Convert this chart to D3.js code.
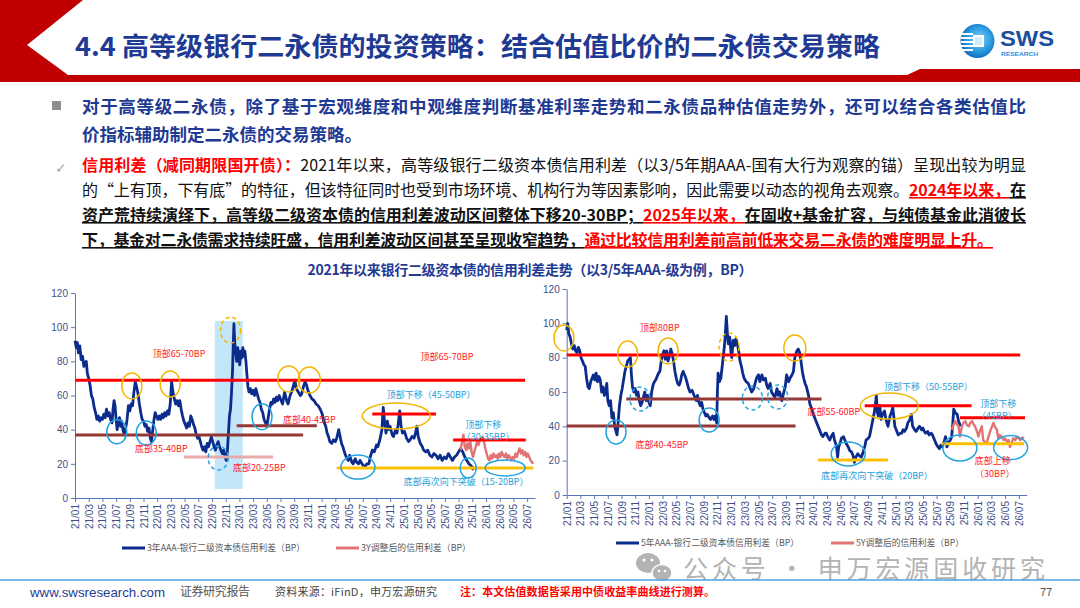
<!DOCTYPE html>
<html><head><meta charset="utf-8">
<script src="https://cdn.jsdelivr.net/npm/d3@7"></script>
<style>
body{margin:0;background:#fff;}
svg{display:block;font-family:"Noto Sans CJK SC","Noto Sans",sans-serif;}
</style>
</head><body>
<svg id="s" width="1080" height="608"></svg>
<script>
// ---------------- DATA ----------------
const monthLabels = ["21/01","21/03","21/05","21/07","21/09","21/11","22/01","22/03","22/05","22/07","22/09","22/11","23/01","23/03","23/05","23/07","23/09","23/11","24/01","24/03","24/05","24/07","24/09","24/11","25/01","25/03","25/05","25/07","25/09","25/11","26/01","26/03","26/05","26/07"];
const yTicks = [0,20,40,60,80,100,120];

// [month offset from 21/01, spread in BP]
const spread3Y = [[0,92],[0.2,88],[0.35,91],[0.5,85],[0.7,89],[0.9,81],[1.1,83],[1.3,77],[1.5,79],[1.65,80],[1.8,73],[2.0,70],[2.2,66],[2.4,60],[2.6,58],[2.8,53],[3.0,50],[3.2,46],[3.4,48],[3.6,45],[3.8,47],[4.0,46],[4.2,49],[4.4,47],[4.6,52],[4.8,48],[5.0,50],[5.2,46],[5.4,44],[5.55,52],[5.7,57],[5.85,54],[6.0,46],[6.15,40],[6.3,44],[6.5,47],[6.65,42],[6.8,45],[7.0,40],[7.2,37],[7.4,41],[7.6,46],[7.8,54],[8.0,51],[8.2,55],[8.4,54],[8.6,62],[8.8,68],[9.0,65],[9.2,61],[9.4,55],[9.6,50],[9.8,46],[10.0,45],[10.2,42],[10.4,43],[10.6,39],[10.8,41],[11.0,35],[11.15,33],[11.3,38],[11.5,45],[11.7,50],[11.9,48],[12.1,46],[12.3,48],[12.5,46],[12.7,49],[12.9,47],[13.1,50],[13.3,48],[13.5,51],[13.7,49],[13.9,55],[14.1,68],[14.3,62],[14.5,58],[14.7,55],[14.9,57],[15.1,54],[15.3,57],[15.5,52],[15.7,48],[15.9,45],[16.1,43],[16.3,41],[16.5,44],[16.7,42],[16.9,48],[17.1,46],[17.3,43],[17.5,41],[17.7,37],[17.9,35],[18.1,36],[18.3,33],[18.5,30],[18.7,28],[18.9,30],[19.1,27],[19.3,32],[19.5,30],[19.7,33],[19.9,36],[20.1,33],[20.3,30],[20.5,28],[20.7,31],[20.9,33],[21.1,30],[21.3,28],[21.5,26],[21.7,28],[21.9,24],[22.1,22],[22.25,28],[22.4,38],[22.55,48],[22.7,52],[22.85,62],[23.0,75],[23.1,90],[23.2,102],[23.3,92],[23.45,85],[23.6,80],[23.75,88],[23.9,84],[24.05,78],[24.2,86],[24.35,82],[24.5,88],[24.65,83],[24.8,86],[24.95,80],[25.1,72],[25.25,65],[25.4,62],[25.6,64],[25.8,61],[26.0,63],[26.2,60],[26.4,64],[26.6,61],[26.8,58],[27.0,56],[27.2,52],[27.4,50],[27.6,46],[27.8,44],[28.0,42],[28.2,47],[28.4,52],[28.6,56],[28.8,55],[29.0,58],[29.2,56],[29.4,59],[29.6,57],[29.8,60],[30.0,58],[30.3,55],[30.6,62],[30.9,57],[31.1,55],[31.4,60],[31.7,63],[31.9,66],[32.1,69],[32.3,64],[32.6,62],[32.9,60],[33.1,61],[33.4,66],[33.6,68],[33.8,66],[34.0,63],[34.3,60],[34.6,58],[34.9,57],[35.2,55],[35.5,54],[35.8,52],[36.1,49],[36.3,45],[36.6,42],[36.8,38],[37.0,36],[37.2,33],[37.5,32],[37.7,34],[38.0,33],[38.2,35],[38.5,40],[38.7,36],[38.9,32],[39.1,30],[39.4,26],[39.6,24],[39.9,22],[40.1,25],[40.4,21],[40.6,20],[40.9,23],[41.1,21],[41.4,20],[41.6,22],[41.9,20],[42.1,19],[42.3,18],[42.6,20],[42.9,20],[43.1,24],[43.4,28],[43.7,27],[44.0,31],[44.2,30],[44.5,34],[44.8,40],[45.0,53],[45.2,44],[45.4,38],[45.6,45],[45.8,40],[46.0,42],[46.3,37],[46.5,36],[46.8,40],[47.0,38],[47.2,44],[47.4,51],[47.6,42],[47.8,38],[48.1,39],[48.4,35],[48.7,33],[48.9,34],[49.2,36],[49.5,35],[49.7,38],[49.9,42],[50.1,36],[50.4,32],[50.7,30],[50.9,28],[51.2,27],[51.5,28],[51.8,25],[52.1,24],[52.4,26],[52.7,25],[53.0,23],[53.3,25],[53.6,22],[53.9,24],[54.2,23],[54.5,26],[54.8,24],[55.1,22],[55.4,24],[55.7,25],[56.0,27],[56.3,29],[56.6,27],[56.9,24],[57.2,22],[57.5,20],[57.8,19],[58.1,17],[58.3,18]];
const adjusted3Y = [[56.3,28],[56.5,33],[56.7,37],[56.9,30],[57.1,28],[57.3,32],[57.5,29],[57.7,33],[57.9,27],[58.1,24],[58.3,27],[58.5,30],[58.7,33],[58.9,31],[59.1,34],[59.3,35],[59.5,36],[59.7,33],[59.9,29],[60.1,26],[60.3,23],[60.5,22],[60.7,25],[60.9,23],[61.1,26],[61.3,24],[61.5,25],[61.7,23],[61.9,26],[62.1,24],[62.3,27],[62.5,25],[62.7,24],[62.9,26],[63.1,23],[63.3,25],[63.5,24],[63.7,22],[63.9,24],[64.1,23],[64.3,26],[64.5,24],[64.7,27],[64.9,29],[65.1,26],[65.3,28],[65.5,25],[65.7,27],[65.9,24],[66.1,26],[66.3,24],[66.5,22],[66.7,21],[66.9,20]];
const spread5Y = [[0,96],[0.15,100],[0.3,94],[0.5,92],[0.7,88],[0.9,85],[1.1,87],[1.3,84],[1.5,83],[1.7,86],[1.9,84],[2.1,80],[2.3,78],[2.5,76],[2.7,75],[2.9,68],[3.1,63],[3.3,62],[3.5,66],[3.7,68],[3.9,70],[4.1,67],[4.3,71],[4.5,66],[4.7,69],[4.9,67],[5.1,60],[5.3,63],[5.5,58],[5.7,61],[5.85,65],[6.0,55],[6.2,52],[6.4,55],[6.6,45],[6.8,48],[7.0,40],[7.2,37],[7.35,35],[7.5,42],[7.7,52],[7.9,58],[8.1,62],[8.3,67],[8.5,72],[8.7,75],[8.9,78],[9.1,79],[9.3,80],[9.45,70],[9.6,63],[9.8,60],[10.0,62],[10.2,58],[10.4,60],[10.6,55],[10.8,52],[11.0,54],[11.2,57],[11.4,60],[11.6,55],[11.8,58],[12.0,54],[12.2,52],[12.4,60],[12.6,64],[12.8,66],[13.0,67],[13.2,69],[13.4,71],[13.6,72],[13.8,78],[14.0,82],[14.2,84],[14.4,79],[14.6,84],[14.8,78],[15.0,81],[15.2,85],[15.4,82],[15.6,78],[15.8,72],[16.0,68],[16.2,65],[16.4,64],[16.6,66],[16.8,70],[17.0,72],[17.2,70],[17.4,68],[17.6,65],[17.8,62],[18.0,60],[18.3,61],[18.6,58],[18.9,55],[19.1,58],[19.3,54],[19.5,52],[19.7,54],[19.9,50],[20.1,48],[20.3,46],[20.5,47],[20.8,45],[21.0,44],[21.3,46],[21.5,44],[21.7,46],[21.9,42],[22.0,60],[22.1,71],[22.3,66],[22.5,68],[22.7,75],[22.9,82],[23.1,90],[23.3,104],[23.45,95],[23.6,88],[23.8,92],[24.0,82],[24.1,80],[24.3,90],[24.5,87],[24.7,91],[24.9,88],[25.1,84],[25.3,78],[25.5,75],[25.7,71],[25.9,68],[26.2,66],[26.5,65],[26.8,62],[27.0,60],[27.3,62],[27.5,65],[27.7,68],[28.0,70],[28.2,66],[28.5,70],[28.7,67],[29.0,68],[29.2,64],[29.4,62],[29.7,65],[29.9,60],[30.2,58],[30.4,57],[30.7,62],[30.9,58],[31.1,60],[31.4,55],[31.7,60],[31.9,63],[32.1,70],[32.4,66],[32.6,68],[32.9,70],[33.1,72],[33.3,80],[33.6,84],[33.8,85],[34.0,83],[34.2,78],[34.4,72],[34.6,68],[34.8,65],[35.0,63],[35.3,58],[35.5,53],[35.8,50],[36.0,47],[36.3,44],[36.5,42],[36.8,39],[37.0,37],[37.2,35],[37.4,34],[37.7,36],[37.9,36],[38.1,34],[38.4,32],[38.6,34],[38.9,36],[39.1,32],[39.4,28],[39.55,22],[39.7,28],[39.9,30],[40.1,33],[40.4,34],[40.6,32],[40.8,30],[41.1,28],[41.3,26],[41.6,25],[41.8,23],[42.0,19],[42.2,22],[42.5,24],[42.7,23],[43.0,22],[43.2,24],[43.5,28],[43.7,32],[44.0,33],[44.2,34],[44.5,40],[44.7,44],[44.9,48],[45.1,54],[45.2,58],[45.35,48],[45.5,46],[45.7,52],[45.9,44],[46.1,47],[46.4,49],[46.6,44],[46.9,40],[47.2,46],[47.4,48],[47.6,51],[47.8,44],[47.9,40],[48.2,37],[48.4,35],[48.7,36],[48.9,36],[49.1,38],[49.3,37],[49.6,39],[49.8,42],[50.1,44],[50.3,47],[50.5,40],[50.8,38],[51.0,37],[51.3,39],[51.5,40],[51.8,38],[52.0,39],[52.2,37],[52.4,36],[52.7,37],[52.9,35],[53.2,36],[53.4,35],[53.7,32],[53.9,30],[54.2,28],[54.4,27],[54.6,29],[54.8,28],[55.1,31],[55.3,34],[55.5,28],[55.8,31],[56.0,32],[56.2,34],[56.4,44],[56.5,50],[56.7,48],[57.0,47],[57.2,43],[57.5,40]];
const adjusted5Y = [[56.2,38],[56.5,41],[56.7,43],[57.0,41],[57.2,40],[57.4,34],[57.7,40],[57.9,42],[58.2,43],[58.4,41],[58.7,40],[58.9,42],[59.2,43],[59.4,41],[59.6,40],[59.9,37],[60.1,34],[60.3,37],[60.6,40],[60.8,32],[61.0,31],[61.3,30],[61.5,33],[61.8,37],[62.0,39],[62.3,42],[62.5,40],[62.8,38],[63.0,33],[63.2,35],[63.5,34],[63.8,32],[64.0,33],[64.3,31],[64.5,32],[64.7,28],[65.0,31],[65.2,33],[65.5,32],[65.7,34],[66.0,33],[66.2,32],[66.5,33],[66.7,34]];

// annotations, in data units (month offset, BP)
const leftBands = [{x0:20.4,x1:24.5,y0:5.3,y1:103.6}];
const leftLevels = [
  {x0:0,x1:65.7,y:69,kind:"top"},
  {x0:0,x1:33.3,y:36.9,kind:"base"},
  {x0:15.9,x1:28.9,y:24,kind:"pale"},
  {x0:23.6,x1:35.3,y:42.3,kind:"base"},
  {x0:43.4,x1:52.7,y:49.2,kind:"top"},
  {x0:38.2,x1:66.9,y:17.6,kind:"floor"},
  {x0:55.2,x1:65.8,y:34,kind:"top"}
];
const leftRings = [
  {x:22.7,y:98.3,rx:10,ry:13,kind:"peakDash"},
  {x:8.3,y:65.6,rx:10,ry:13,kind:"peak"},
  {x:13.9,y:66.7,rx:10,ry:13,kind:"peak"},
  {x:31.2,y:69.7,rx:11,ry:13,kind:"peak"},
  {x:34.2,y:69.1,rx:11,ry:13,kind:"peak"},
  {x:6.1,y:38.8,rx:10,ry:12,kind:"trough"},
  {x:10.4,y:38,rx:10,ry:12,kind:"trough"},
  {x:27.3,y:47.6,rx:10,ry:13,kind:"trough"},
  {x:20.9,y:23.4,rx:10,ry:12,kind:"troughDash"},
  {x:46.9,y:48,rx:34,ry:13,kind:"peak"},
  {x:41.3,y:18.1,rx:17,ry:12,kind:"trough"},
  {x:57.4,y:17.6,rx:8,ry:10,kind:"trough"},
  {x:62.8,y:17.6,rx:20,ry:8,kind:"trough"}
];
const leftNotes = [
  {x:15.2,y:82.5,t:"顶部65-70BP",kind:"red"},
  {x:54.3,y:80.8,t:"顶部65-70BP",kind:"red"},
  {x:12.6,y:26.9,t:"底部35-40BP",kind:"red"},
  {x:26.9,y:15.8,t:"底部20-25BP",kind:"red"},
  {x:34.2,y:43.9,t:"底部40-45BP",kind:"red"},
  {x:52,y:58.5,t:"顶部下移（45-50BP）",kind:"blue"},
  {x:59.6,y:41.2,t:"顶部下移",kind:"blue"},
  {x:60.3,y:33.8,t:"（30-35BP）",kind:"blue"},
  {x:57.1,y:7.6,t:"底部再次向下突破（15-20BP）",kind:"blue"}
];
const rightLevels = [
  {x0:0,x1:66.2,y:81.6,kind:"top"},
  {x0:0,x1:33.4,y:40.2,kind:"base"},
  {x0:8.7,x1:37.2,y:55.9,kind:"base"},
  {x0:43.5,x1:59.1,y:52,kind:"top"},
  {x0:57.4,x1:66.9,y:45,kind:"top"},
  {x0:36.7,x1:46.9,y:20.4,kind:"floor"},
  {x0:54.7,x1:66.8,y:29.9,kind:"floor"}
];
const rightRings = [
  {x:-0.4,y:91.5,rx:10,ry:13,kind:"peak"},
  {x:8.9,y:82.1,rx:10,ry:13,kind:"peak"},
  {x:14.8,y:83.9,rx:10,ry:13,kind:"peak"},
  {x:23.7,y:86.2,rx:10,ry:14,kind:"peakDash"},
  {x:33.3,y:85.6,rx:11,ry:13,kind:"peak"},
  {x:7.2,y:36.7,rx:10,ry:12,kind:"trough"},
  {x:20.8,y:43.7,rx:10,ry:12,kind:"trough"},
  {x:10.7,y:55.9,rx:10,ry:12,kind:"troughDash"},
  {x:27.1,y:56.5,rx:10,ry:12,kind:"troughDash"},
  {x:30.8,y:57.1,rx:10,ry:12,kind:"troughDash"},
  {x:47.1,y:51.8,rx:29,ry:13,kind:"peak"},
  {x:41.1,y:23.9,rx:17,ry:12,kind:"trough"},
  {x:57.4,y:27.4,rx:17,ry:13,kind:"trough"},
  {x:64.8,y:27.6,rx:17,ry:12,kind:"trough"}
];
const rightNotes = [
  {x:13.6,y:95.5,t:"顶部80BP",kind:"red"},
  {x:13.9,y:27.4,t:"底部40-45BP",kind:"red"},
  {x:39,y:46.6,t:"底部55-60BP",kind:"red"},
  {x:52.8,y:61.2,t:"顶部下移（50-55BP）",kind:"blue"},
  {x:63,y:51.2,t:"顶部下移",kind:"blue"},
  {x:62.8,y:44.0,t:"（45BP）",kind:"blue"},
  {x:45.3,y:9.3,t:"底部再次向下突破（20BP）",kind:"blue"},
  {x:62.2,y:17.9,t:"底部上移",kind:"red"},
  {x:62.5,y:10.5,t:"（30BP）",kind:"red"}
];

// ---------------- STYLES ----------------
const NAVY="#0b2c8c", PINK="#e07474", AXIS="#5577c0", TICK="#3e5088";
const levelStyle = {top:"#ff0000", base:"#953735", pale:"#e9abab", floor:"#ffc000"};
const ringStyle = {peak:["#f2b705",null], peakDash:["#f2b705","4,3"], trough:["#22a3e2",null], troughDash:["#22a3e2","4,3"]};
const noteStyle = {red:"#ff1a1a", blue:"#22a0dc"};

const svg = d3.select("#s");

// ---------------- HEADER ----------------
svg.append("polygon").attr("points","0,0 83,0 27,45 68,75 0,75").attr("fill","#c00000");
svg.append("polygon").attr("points","0,75 907,75 920,69 1080,69 1080,82 0,82").attr("fill","#c00000");
svg.append("text").attr("x",75).attr("y",56).attr("font-size",26).attr("font-weight","bold")
  .attr("fill","#1f3a93").attr("textLength",805).attr("lengthAdjust","spacingAndGlyphs")
  .text("4.4 高等级银行二永债的投资策略：结合估值比价的二永债交易策略");

// logo
const defs = svg.append("defs");
const rg = defs.append("radialGradient").attr("id","lg").attr("cx","55%").attr("cy","45%").attr("r","60%");
rg.append("stop").attr("offset","0%").attr("stop-color","#7fd0f5");
rg.append("stop").attr("offset","60%").attr("stop-color","#2a9be0");
rg.append("stop").attr("offset","100%").attr("stop-color","#0d62b8");
svg.append("circle").attr("cx",977.5).attr("cy",41).attr("r",17).attr("fill","url(#lg)");
[33,37,41,45,49].forEach(yy=>svg.append("rect").attr("x",961).attr("y",yy).attr("width",12).attr("height",2).attr("fill","#fff"));
svg.append("rect").attr("x",973).attr("y",35).attr("width",11).attr("height",12).attr("fill","#fff");
svg.append("rect").attr("x",975).attr("y",37).attr("width",7).attr("height",8).attr("fill","#cfeefc");
svg.append("text").attr("x",1000).attr("y",46).attr("font-family","Liberation Sans, Arial").attr("font-weight","bold")
  .attr("font-size",22).attr("fill","#1b4f9c").attr("textLength",54).attr("lengthAdjust","spacingAndGlyphs").text("SWS");
svg.append("text").attr("x",1001).attr("y",56).attr("font-family","Liberation Sans, Arial").attr("font-weight","bold")
  .attr("font-size",5.5).attr("fill","#2a8ad8").attr("textLength",37).attr("lengthAdjust","spacingAndGlyphs").text("RESEARCH");

// ---------------- BODY TEXT ----------------
svg.append("rect").attr("x",52).attr("y",101).attr("width",9).attr("height",9).attr("fill","#8f8f8f");
svg.append("text").attr("x",82).attr("y",113).attr("font-size",17.5).attr("font-weight","bold").attr("fill","#1f3a93")
  .attr("textLength",944).attr("lengthAdjust","spacing")
  .text("对于高等级二永债，除了基于宏观维度和中观维度判断基准利率走势和二永债品种估值走势外，还可以结合各类估值比");
svg.append("text").attr("x",82).attr("y",141).attr("font-size",17.5).attr("font-weight","bold").attr("fill","#1f3a93")
  .text("价指标辅助制定二永债的交易策略。");
svg.append("text").attr("x",55).attr("y",173).attr("font-family","DejaVu Sans").attr("font-size",14).attr("fill","#a8a8a8").text("✓");

const segStyle = {
  hl:{fill:"#ff0000",w:"bold",u:false},
  n:{fill:"#111",w:"normal",u:false},
  hu:{fill:"#ff0000",w:"bold",u:true},
  bu:{fill:"#111",w:"bold",u:true}
};
const bodyLines = [
  {y:171,len:944,segs:[["信用利差（减同期限国开债）：","hl"],["2021年以来，高等级银行二级资本债信用利差（以3/5年期AAA-国有大行为观察的锚）呈现出较为明显","n"]]},
  {y:196,len:944,segs:[["的“上有顶，下有底”的特征，但该特征同时也受到市场环境、机构行为等因素影响，因此需要以动态的视角去观察。","n"],["2024年以来，","hu"],["在","bu"]]},
  {y:221,len:944,segs:[["资产荒持续演绎下，高等级二级资本债的信用利差波动区间整体下移20-30BP；","bu"],["2025年以来，","hu"],["在固收+基金扩容，与纯债基金此消彼长","bu"]]},
  {y:246,len:911,segs:[["下，基金对二永债需求持续旺盛，信用利差波动区间甚至呈现收窄趋势，","bu"],["通过比较信用利差前高前低来交易二永债的难度明显上升。","hu"]]}
];
bodyLines.forEach(l=>{
  const t = svg.append("text").attr("x",82).attr("y",l.y).attr("font-size",16)
    .attr("textLength",l.len).attr("lengthAdjust","spacing");
  l.segs.forEach(([s,k])=>{
    const st=segStyle[k];
    t.append("tspan").attr("fill",st.fill).attr("font-weight",st.w)
      .style("text-decoration",st.u?"underline":"none").text(s);
  });
});

// chart title
svg.append("text").attr("x",530).attr("y",275).attr("text-anchor","middle").attr("font-size",14)
  .attr("font-weight","bold").attr("fill","#1f3a93").attr("textLength",445).attr("lengthAdjust","spacing")
  .text("2021年以来银行二级资本债的信用利差走势（以3/5年AAA-级为例，BP）");

// ---------------- CHARTS ----------------
function drawPanel(cfg){
  const x = d3.scaleLinear().domain([0,67.15]).range(cfg.xr);
  const y = d3.scaleLinear().domain([0,120]).range(cfg.yr);
  const g = svg.append("g");
  (cfg.bands||[]).forEach(b=>{
    g.append("rect").attr("x",x(b.x0)).attr("y",y(b.y1)).attr("width",x(b.x1)-x(b.x0))
      .attr("height",y(b.y0)-y(b.y1)).attr("fill","#c3e7f8");
  });
  const ya = g.append("g").attr("transform",`translate(${cfg.xr[0]},0)`)
    .call(d3.axisLeft(y).tickValues(yTicks).tickSize(4).tickSizeOuter(0).tickPadding(3));
  const xa = g.append("g").attr("transform",`translate(0,${cfg.yr[0]})`)
    .call(d3.axisBottom(x).tickValues(monthLabels.map((d,i)=>i*2)).tickFormat((d,i)=>monthLabels[i]).tickSize(4).tickSizeOuter(0));
  [ya,xa].forEach(a=>{
    a.selectAll("path,line").attr("stroke",AXIS).attr("stroke-width",1);
    a.selectAll("text").attr("fill",TICK).attr("font-size",10).attr("font-family","Liberation Sans, Arial");
  });
  xa.selectAll("text").attr("text-anchor","end").attr("dy","0.35em")
    .attr("transform","translate(0,6) rotate(-90)").attr("x",0).attr("y",0);

  const line = d3.line().x(d=>x(d[0])).y(d=>y(d[1]));
  g.append("path").datum(cfg.main).attr("d",line).attr("fill","none").attr("stroke",NAVY)
    .attr("stroke-width",2.8).attr("stroke-linejoin","round");
  g.append("path").datum(cfg.adj).attr("d",line).attr("fill","none").attr("stroke",PINK)
    .attr("stroke-width",2.4).attr("stroke-linejoin","round");

  cfg.levels.forEach(l=>{
    g.append("line").attr("x1",x(l.x0)).attr("x2",x(l.x1)).attr("y1",y(l.y)).attr("y2",y(l.y))
      .attr("stroke",levelStyle[l.kind]).attr("stroke-width",3);
  });
  cfg.rings.forEach(r=>{
    const st=ringStyle[r.kind];
    g.append("ellipse").attr("cx",x(r.x)).attr("cy",y(r.y)).attr("rx",r.rx).attr("ry",r.ry)
      .attr("fill","none").attr("stroke",st[0]).attr("stroke-width",1.5).attr("stroke-dasharray",st[1]);
  });
  cfg.notes.forEach(n=>{
    g.append("text").attr("x",x(n.x)).attr("y",y(n.y)).attr("text-anchor","middle")
      .attr("font-size",9).attr("fill",noteStyle[n.kind]).text(n.t);
  });
}

drawPanel({xr:[75,535], yr:[498,293], main:spread3Y, adj:adjusted3Y, bands:leftBands,
  levels:leftLevels, rings:leftRings, notes:leftNotes});
drawPanel({xr:[566.7,1026.7], yr:[495,289], main:spread5Y, adj:adjusted5Y,
  levels:rightLevels, rings:rightRings, notes:rightNotes});

// legends
function legend(x0,yy,color,label,len){
  svg.append("line").attr("x1",x0).attr("x2",x0+23).attr("y1",yy).attr("y2",yy).attr("stroke",color).attr("stroke-width",3);
  svg.append("text").attr("x",x0+25).attr("y",yy+3).attr("font-size",9).attr("fill","#595959")
    .attr("textLength",len).attr("lengthAdjust","spacingAndGlyphs").text(label);
}
legend(122,548,NAVY,"3年AAA-银行二级资本债信用利差（BP）",158);
legend(336,548,PINK,"3Y调整后的信用利差（BP）",110);
legend(616,543,NAVY,"5年AAA-银行二级资本债信用利差（BP）",158);
legend(831,543,PINK,"5Y调整后的信用利差（BP）",108);

// watermark
const wm = svg.append("g").attr("fill","#b3b3b3");
wm.append("ellipse").attr("cx",648).attr("cy",563).attr("rx",12).attr("ry",10);
wm.append("ellipse").attr("cx",662).attr("cy",573).attr("rx",10).attr("ry",8.5).attr("stroke","#fff").attr("stroke-width",1.5);
svg.append("circle").attr("cx",644).attr("cy",560).attr("r",1.6).attr("fill","#fff");
svg.append("circle").attr("cx",652).attr("cy",560).attr("r",1.6).attr("fill","#fff");
svg.append("circle").attr("cx",659).attr("cy",571).attr("r",1.3).attr("fill","#fff");
svg.append("circle").attr("cx",665).attr("cy",571).attr("r",1.3).attr("fill","#fff");
svg.append("text").attr("x",683).attr("y",578).attr("font-size",25).attr("fill","#b3b3b3")
  .attr("textLength",362).attr("lengthAdjust","spacing").text("公众号 · 申万宏源固收研究");

// footer
svg.append("line").attr("x1",0).attr("x2",1080).attr("y1",580).attr("y2",580).attr("stroke","#4aa3dc").attr("stroke-width",1.5);
svg.append("text").attr("x",30).attr("y",597).attr("font-size",13).attr("font-family","Liberation Sans, Arial")
  .attr("fill","#1f3a93").attr("textLength",135).attr("lengthAdjust","spacingAndGlyphs").text("www.swsresearch.com");
svg.append("text").attr("x",180).attr("y",596).attr("font-size",12).attr("fill","#555").attr("textLength",70).text("证券研究报告");
svg.append("text").attr("x",275).attr("y",596).attr("font-size",11).attr("fill","#444").attr("textLength",162).text("资料来源：iFinD，申万宏源研究");
svg.append("text").attr("x",460).attr("y",596).attr("font-size",11).attr("font-weight","bold").attr("fill","#ff0000")
  .attr("textLength",255).text("注：本文估值数据皆采用中债收益率曲线进行测算。");
svg.append("text").attr("x",1040).attr("y",596).attr("font-size",11).attr("fill","#555").text("77");
</script>
</body></html>
